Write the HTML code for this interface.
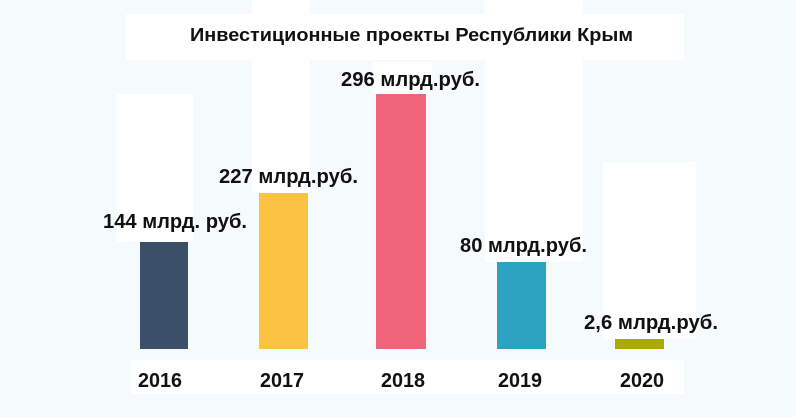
<!DOCTYPE html>
<html><head><meta charset="utf-8"><style>
html,body{margin:0;padding:0;background:#f5fafd;}
svg{display:block}
text{font-family:"Liberation Sans",sans-serif;font-weight:bold;fill:#111;}
</style></head><body>
<svg width="796" height="417" viewBox="0 0 796 417">
<rect width="796" height="417" fill="#f5fafd"/>
<g fill="#fff">
<rect x="252" y="0" width="58" height="193"/>
<rect x="485" y="0" width="98" height="262"/>
<rect x="126" y="14" width="558" height="46"/>
<rect x="373" y="62" width="59" height="32"/>
<rect x="117" y="94" width="76" height="148"/>
<rect x="603" y="162" width="93" height="177"/>
<rect x="131" y="360" width="553" height="34"/>
</g>
<rect x="140" y="242" width="48" height="107" fill="#3b5068"/>
<rect x="259" y="193" width="49" height="156" fill="#fcc342"/>
<rect x="376" y="94" width="50" height="255" fill="#f0657b"/>
<rect x="497" y="262" width="49" height="87" fill="#2ca3c0"/>
<rect x="615" y="339" width="49" height="10" fill="#aaaa00"/>
<text x="190" y="41" font-size="18" textLength="443" lengthAdjust="spacingAndGlyphs">Инвестиционные проекты Республики Крым</text>
<g font-size="20">
<text x="103" y="228" textLength="144" lengthAdjust="spacingAndGlyphs">144 млрд. руб.</text>
<text x="219" y="183" textLength="139" lengthAdjust="spacingAndGlyphs">227 млрд.руб.</text>
<text x="341" y="86" textLength="139" lengthAdjust="spacingAndGlyphs">296 млрд.руб.</text>
<text x="460" y="252" textLength="127" lengthAdjust="spacingAndGlyphs">80 млрд.руб.</text>
<text x="584" y="329" textLength="134" lengthAdjust="spacingAndGlyphs">2,6 млрд.руб.</text>
<text x="138" y="387" textLength="44" lengthAdjust="spacingAndGlyphs">2016</text>
<text x="260" y="387" textLength="44" lengthAdjust="spacingAndGlyphs">2017</text>
<text x="381" y="387" textLength="44" lengthAdjust="spacingAndGlyphs">2018</text>
<text x="498" y="387" textLength="44" lengthAdjust="spacingAndGlyphs">2019</text>
<text x="620" y="387" textLength="44" lengthAdjust="spacingAndGlyphs">2020</text>
</g>
</svg>
</body></html>
